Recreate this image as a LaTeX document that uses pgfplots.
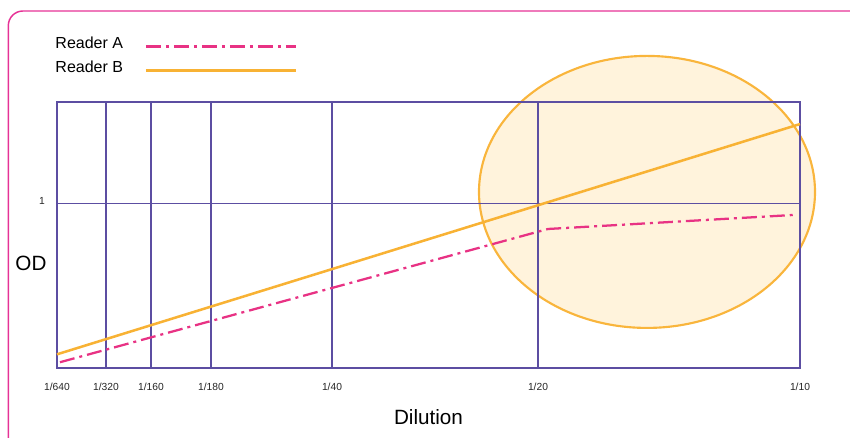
\documentclass[border=0pt]{standalone}
\usepackage{fontspec}
\setmainfont{Liberation Sans}
\usepackage{pgfplots}
\pgfplotsset{compat=1.18}

\definecolor{gridc}{RGB}{92,78,162}
\definecolor{readera}{RGB}{232,50,132}
\definecolor{readerb}{RGB}{248,178,52}
\definecolor{ellfill}{RGB}{255,243,220}
\definecolor{elledge}{RGB}{249,181,60}
\definecolor{framec}{RGB}{230,50,150}

\begin{document}
\begin{tikzpicture}[x=0.75pt,y=0.75pt]
\begin{axis}[
    at={(42.75pt,52.5pt)}, anchor=south west,
    scale only axis,
    width=557.25pt, height=199.5pt,
    set layers, clip=false,
    xmin=0, xmax=743, ymin=0, ymax=1.615,
    xtick={0,49,94,154,275,481,743},
    xticklabels={1/640,1/320,1/160,1/180,1/40,1/20,1/10},
    ytick={1},
    major tick length=0pt,
    grid=major,
    grid style={draw=gridc, line width=0.9pt},
    axis line style={draw=gridc, line width=0.9pt},
    /pgf/number format/assume math mode=true,
    tick label style={font=\fontsize{7.7}{9}\selectfont, text=black!85},
    xticklabel style={yshift=-8pt},
    yticklabel style={xshift=-5.5pt, yshift=1.5pt},
    xlabel={Dilution},
    ylabel={OD},
    every axis x label/.style={at={(rel axis cs:0.5,-0.184)}, anchor=center, font=\fontsize{15.5}{18}\selectfont},
    every axis y label/.style={at={(rel axis cs:-0.035,0.395)}, anchor=center, font=\fontsize{15.5}{18}\selectfont},
    legend style={draw=none, fill=none, at={(rel axis cs:-0.006,1.255)}, anchor=north west,
        font=\fontsize{12}{14}\selectfont, inner sep=0pt, row sep=4pt,
        /tikz/every odd column/.append style={column sep=14pt}},
    legend cell align=left,
    legend plot pos=right,
    legend image code/.code={\draw[#1, line width=2.1pt] (0pt,-2pt) -- (112.5pt,-2pt);},
]
\begin{pgfonlayer}{axis background}
\draw[draw=elledge, line width=1.6pt, fill=ellfill] (axis cs:590,1.069) ellipse [x radius=126pt, y radius=102pt];
\end{pgfonlayer}

\addplot[readera, line width=1.7pt, dash pattern=on 11.25pt off 3.75pt on 2.25pt off 3.75pt]
  coordinates {(3,0.035) (491,0.844) (736,0.929)};
\addplot[readerb, line width=1.9pt]
  coordinates {(0,0.083) (743,1.481)};
\legend{Reader A, Reader B}
\end{axis}

\draw[framec, line width=1.1pt, rounded corners=11pt] (8.3,-30) rectangle (880,427);
\pgfresetboundingbox
\path[use as bounding box] (0,0) rectangle (850,438);
\end{tikzpicture}
\end{document}
